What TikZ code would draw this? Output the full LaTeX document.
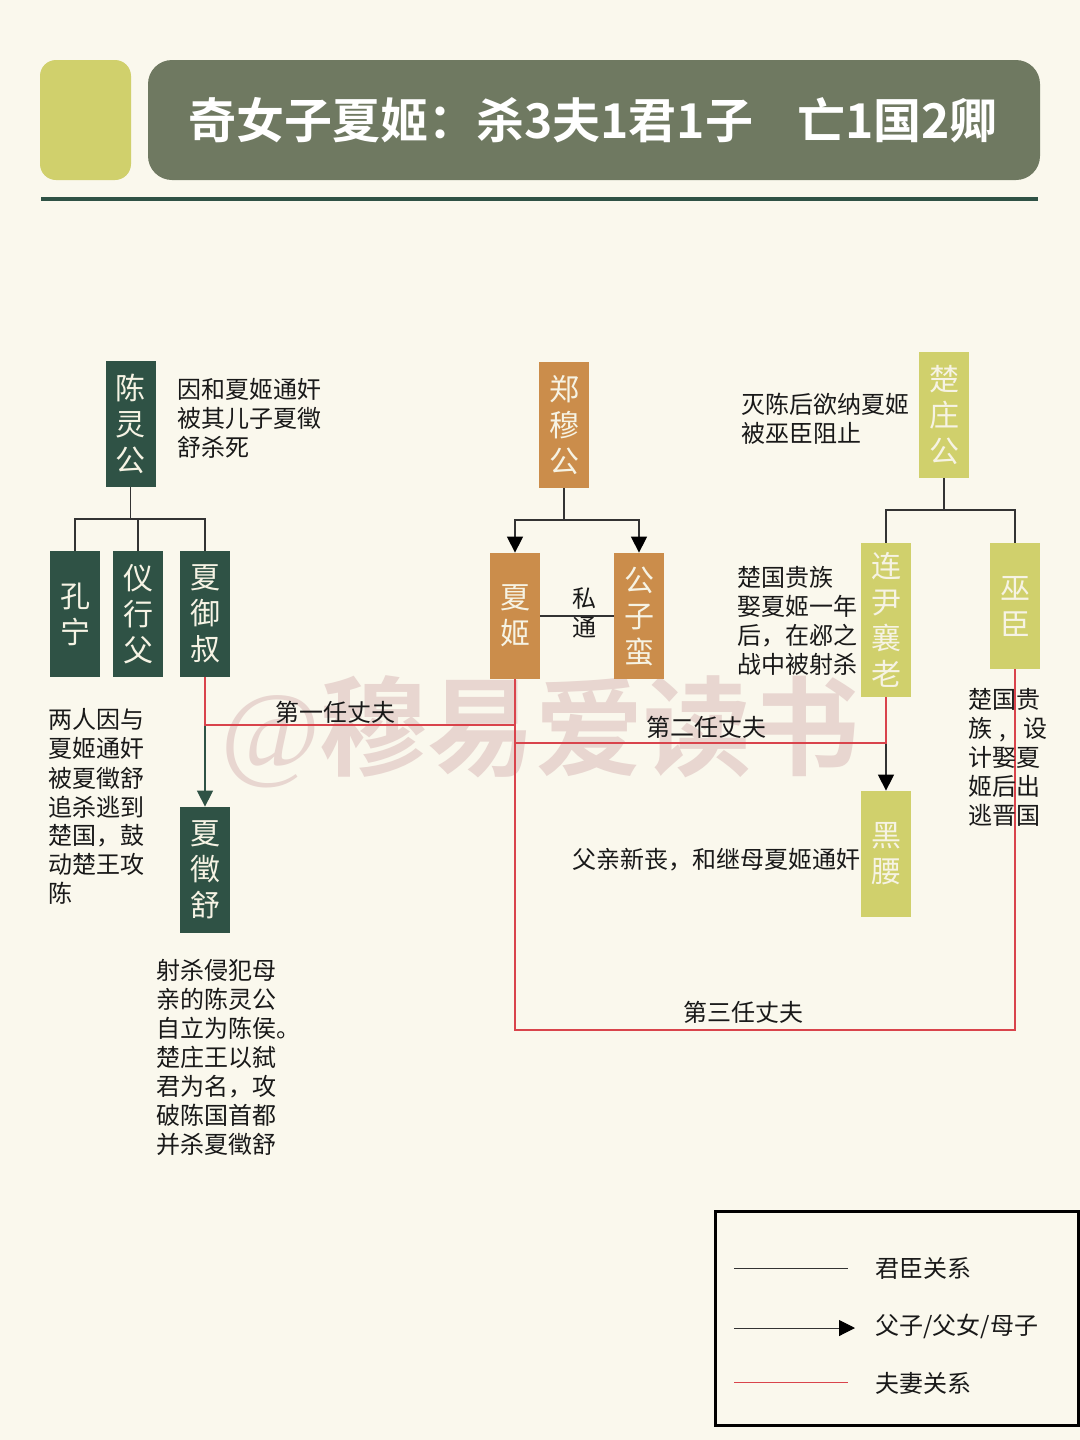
\documentclass[tikz,border=0pt]{standalone}
\usepackage{fontspec}
\setmainfont{Noto Sans CJK SC}
\newfontfamily\boldcjk{Noto Sans CJK SC Bold}
\newfontfamily\wmlatin{Liberation Serif}
\usetikzlibrary{arrows.meta}
\newcommand{\fwcomma}{\char"FF0C\relax}
\newcommand{\fwcolon}{\char"FF1A\relax}
\definecolor{bgc}{HTML}{FAF8ED}
\definecolor{darkg}{HTML}{2F5245}
\definecolor{orangeb}{HTML}{CB8D4B}
\definecolor{yellowb}{HTML}{D0D06C}
\definecolor{headg}{HTML}{6F7961}
\definecolor{linec}{HTML}{333333}
\definecolor{redl}{HTML}{D9444C}
\definecolor{wmark}{HTML}{E8D6D0}
\definecolor{boxtext}{HTML}{F6F3E4}
\tikzset{
  person/.style={draw=none,minimum width=25pt,inner sep=0pt,align=center,text=boxtext,
    font=\fontsize{15}{18}\selectfont},
  pgreen/.style={person,fill=darkg,minimum height=63pt},
  porange/.style={person,fill=orangeb,minimum height=63pt},
  pyellow/.style={person,fill=yellowb,minimum height=63pt},
  note/.style={inner sep=0pt,anchor=north west,align=left,text=black!90,
    font=\fontsize{12}{14.5}\selectfont},
  tag/.style={inner sep=0pt,text=black!90,font=\fontsize{12}{14.5}\selectfont},
  rel/.style={draw=linec,line width=0.7pt},
  arr/.style={rel,-{Triangle[length=8pt,width=8pt,color=black]}},
  wife/.style={draw=redl,line width=0.7pt},
}
\begin{document}
\begin{tikzpicture}[x=0.5pt,y=-0.5pt]
\useasboundingbox[fill=bgc] (0,0) rectangle (1080,1440);
% header
\node[name=hdA,fill=yellowb,rounded corners=8pt,minimum width=45.5pt,minimum height=60pt,inner sep=0pt] at (85.5,120) {};
\node[name=hdB,fill=headg,rounded corners=12pt,minimum width=446pt,minimum height=60pt,inner sep=0pt] at (594,120) {};
\node[name=title,inner sep=0pt,text=white,font=\boldcjk\fontsize{24}{30}\selectfont] at (593,120) {奇女子夏姬\fwcolon 杀3夫1君1子\hspace{22pt}亡1国2卿};
\fill[darkg] (41,197) rectangle (1038,201);
% watermark
\node[name=wm,inner sep=0pt,text=wmark,font=\boldcjk\fontsize{54}{60}\selectfont] at (540,732) {{\wmlatin\itshape @}穆易爱读书};
% people
\node[pgreen,name=cl] at (130.5,424) {陈\\灵\\公};
\node[pgreen,name=kn] at (75,614) {孔\\宁};
\node[pgreen,name=yx] at (138,614) {仪\\行\\父};
\node[pgreen,name=xy] at (205,614) {夏\\御\\叔};
\node[pgreen,name=xz] at (205,870) {夏\\徵\\舒};
\node[porange,name=zm] at (564,425) {郑\\穆\\公};
\node[porange,name=xj] at (515,616) {夏\\姬};
\node[porange,name=gz] at (639,616) {公\\子\\蛮};
\node[pyellow,name=cz] at (944,415) {楚\\庄\\公};
\node[pyellow,minimum height=77pt,name=ly] at (886,620) {连\\尹\\襄\\老};
\node[pyellow,name=wc] at (1015,606) {巫\\臣};
\node[pyellow,name=hy] at (886,854) {黑\\腰};
% tree connectors
\coordinate (busA) at (130.5,519);
\coordinate (busB) at (564,520);
\coordinate (busC) at (944,510);
\draw[rel] (cl.south) -- (busA);
\draw[rel] (kn.north) |- (busA);
\draw[rel] (yx.north) |- (busA);
\draw[rel] (xy.north) |- (busA);
\draw[rel] (zm.south) -- (busB);
\draw[arr] (busB) -| (xj.north);
\draw[arr] (busB) -| (gz.north);
\draw[rel] (cz.south) -- (busC);
\draw[rel] (busC) -| (ly.north);
\draw[rel] (busC) -| (wc.north);
\draw[rel] (xj.east) -- (gz.west);
\draw[draw=darkg,line width=0.7pt,-{Triangle[length=8pt,width=8pt,color=darkg]}] (xy.south) -- (xz.north);
\draw[arr] (ly.south) -- (hy.north);
% marriage connectors
\coordinate (hA) at (205,725);
\coordinate (hB) at (515,725);
\coordinate (hC) at (515,743);
\coordinate (hD) at (886,743);
\coordinate (hE) at (515,1030);
\coordinate (hF) at (1015,1030);
\draw[wife] (xy.south) -- (hA) -- (hB);
\draw[wife] (ly.south) -- (hD) -- (hC);
\draw[wife] (xj.south) -- (hE) -- (hF) -- (wc.south);
% labels
\node[tag,name=s1] at (584,599) {私};
\node[tag,name=s2] at (584,628) {通};
\node[tag,name=t1] at (335,712) {第一任丈夫};
\node[tag,name=t2] at (706,727) {第二任丈夫};
\node[tag,name=t3] at (743,1012) {第三任丈夫};
% notes
\node[note,name=n1] at (177,377.5) {因和夏姬通奸\\被其儿子夏徵\\舒杀死};
\node[note,name=n2] at (741,392.5) {灭陈后欲纳夏姬\\被巫臣阻止};
\node[note,name=n3] at (737,565.5) {楚国贵族\\娶夏姬一年\\后\fwcomma 在邲之\\战中被射杀};
\node[note,name=n4] at (968,687.5) {楚国贵\\族\hspace{3.5pt},\hspace{8.5pt}设\\计娶夏\\姬后出\\逃晋国};
\node[note,name=n5] at (48,708.5) {两人因与\\夏姬通奸\\被夏徵舒\\追杀逃到\\楚国\fwcomma 鼓\\动楚王攻\\陈};
\node[note,name=n6] at (156,958.5) {射杀侵犯母\\亲的陈灵公\\自立为陈侯。\\楚庄王以弑\\君为名\fwcomma 攻\\破陈国首都\\并杀夏徵舒};
\node[note,name=n7] at (572,847.5) {父亲新丧\fwcomma 和继母夏姬通奸};
% legend
\node[name=lg,draw=black,line width=1.5pt,inner sep=0pt,minimum width=181.5pt,minimum height=107pt] at (896.5,1318) {};
\node[tag,anchor=west,name=l1] at (875,1268) {君臣关系};
\node[tag,anchor=west,name=l2] at (875,1326) {父子/父女/母子};
\node[tag,anchor=west,name=l3] at (875,1383) {夫妻关系};
\coordinate (la) at (734,1268); \coordinate (lb) at (848,1268);
\coordinate (lc) at (734,1328); \coordinate (ld) at (855,1328);
\coordinate (le) at (734,1382); \coordinate (lf) at (848,1382);
\draw[rel,line width=0.5pt] (la) -- (lb);
\draw[arr,line width=0.5pt] (lc) -- (ld);
\draw[wife,line width=0.5pt] (le) -- (lf);
\end{tikzpicture}
\end{document}
